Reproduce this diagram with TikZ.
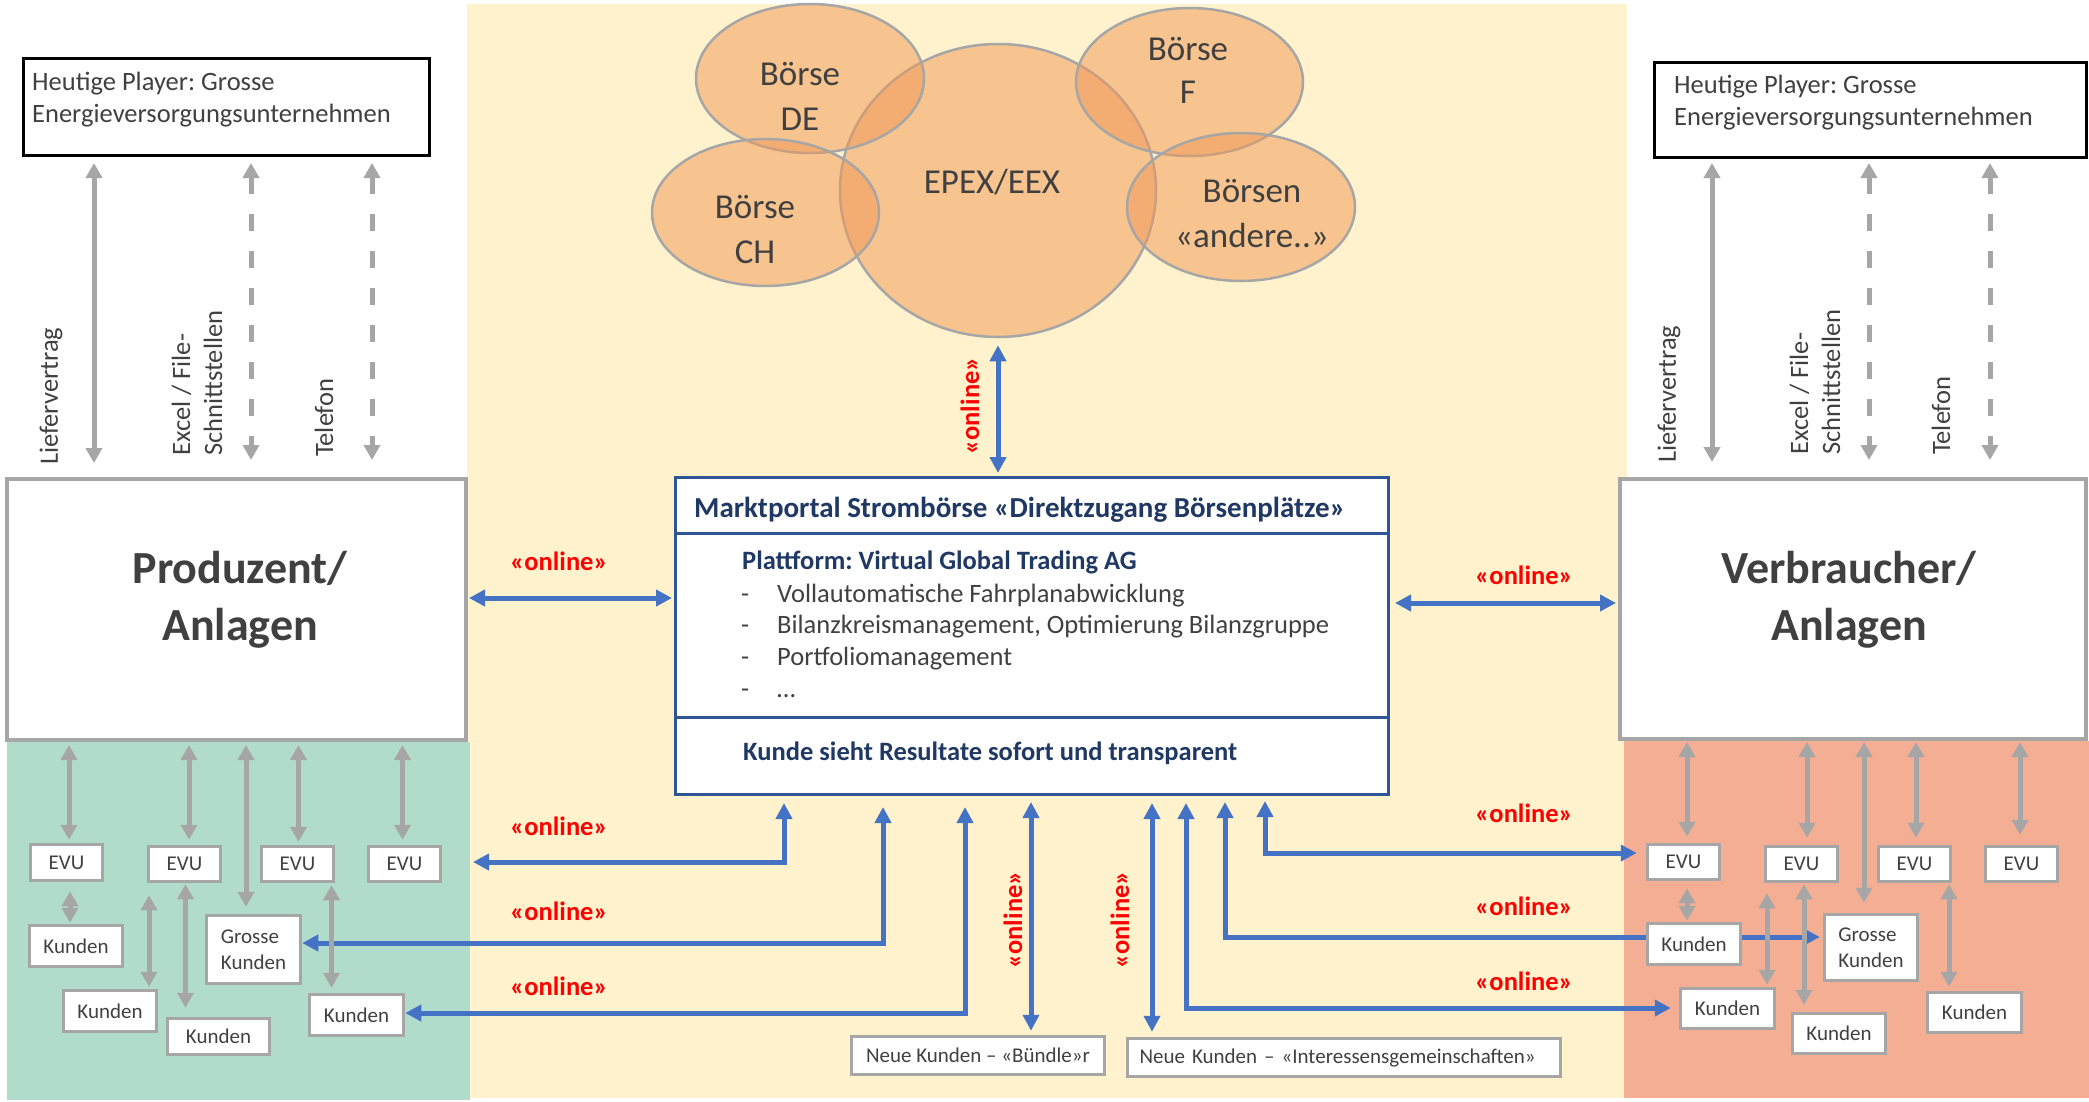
\documentclass[tikz,border=0pt]{standalone}
\usepackage{fontspec}
\setmainfont{Carlito}
\usetikzlibrary{arrows.meta,shapes.geometric}
\pgfdeclarelayer{bgl}
\pgfdeclarelayer{arl}
\pgfsetlayers{bgl,arl,main}
\definecolor{ybg}{HTML}{FFF2CC}
\definecolor{gbg}{HTML}{B1DCCC}
\definecolor{rbg}{HTML}{F4AE94}
\definecolor{orng}{HTML}{F19856}
\definecolor{gline}{HTML}{A6A6A6}
\definecolor{bline}{HTML}{4472C4}
\definecolor{navy}{HTML}{1F3864}
\definecolor{pnavy}{HTML}{2F5597}
\definecolor{tgray}{HTML}{404040}
\definecolor{ored}{HTML}{FF0000}
\frenchspacing
\tikzset{
  garr/.style={draw=gline, line width=5pt, >={Triangle[width=16pt,length=15pt]}, <->},
  gdash/.style={garr, dash pattern=on 17pt off 20pt},
  barr/.style={draw=bline, line width=5pt, >={Triangle[width=16pt,length=16pt]}, <->},
  txt/.style={inner sep=0pt, text=tgray, font=\fontsize{26.5}{32}\selectfont},
  ntxt/.style={inner sep=0pt, text=navy, font=\bfseries\fontsize{26.5}{32}\selectfont},
  onl/.style={inner sep=0pt, text=ored, font=\bfseries\fontsize{26.5}{32}\selectfont},
  bub/.style={ellipse, draw=gline, line width=2.5pt, fill=orng, fill opacity=0.5, inner sep=0pt},
  btxt/.style={inner sep=0pt, text=tgray, font=\fontsize{35}{45}\selectfont},
  hbox/.style={draw=black, line width=3pt, fill=white, inner sep=0pt},
  bbox/.style={draw=gline, line width=4pt, fill=white, inner sep=0pt},
  pbox/.style={draw=pnavy, line width=3pt, fill=white, inner sep=0pt, minimum width=713pt},
  sbox/.style={draw=gline, line width=3.5pt, fill=white, inner sep=0pt, text=tgray, font=\fontsize{21}{26}\selectfont, align=left},
  big/.style={inner sep=0pt, text=tgray, font=\bfseries\fontsize{46}{57}\selectfont},
}
\begin{document}
\frenchspacing
\begin{tikzpicture}[x=1pt,y=-1pt]
\useasboundingbox (0,0) rectangle (2089,1101);
\begin{pgfonlayer}{bgl}
\fill[white] (0,0) rectangle (2089,1101);
\fill[ybg] (467,4) rectangle (1627,1098);
\fill[gbg] (7,742) rectangle (470,1100);
\fill[rbg] (1624,741) rectangle (2089,1098);
\end{pgfonlayer}

% exchange bubbles
\node[bub, minimum width=316pt, minimum height=293pt] (eEPEX) at (998,190.5) {};
\node[bub, minimum width=228pt, minimum height=149pt] (eDE) at (810,78.5) {};
\node[bub, minimum width=227pt, minimum height=147pt] (eCH) at (765.5,212.5) {};
\node[bub, minimum width=227pt, minimum height=148pt] (eF) at (1189.5,82) {};
\node[bub, minimum width=228pt, minimum height=148pt] (eAnd) at (1241,207) {};
\node[btxt, anchor=base] (tDE) at (800,85) {\begin{tabular}[t]{@{}c@{}}Börse\\DE\end{tabular}};
\node[btxt, font=\fontsize{35}{43}\selectfont, anchor=base] (tF) at (1188,60) {\begin{tabular}[t]{@{}c@{}}Börse\\F\end{tabular}};
\node[btxt, anchor=base] (tCH) at (755,218) {\begin{tabular}[t]{@{}c@{}}Börse\\CH\end{tabular}};
\node[btxt, anchor=base] (tAnd) at (1252,202) {\begin{tabular}[t]{@{}c@{}}Börsen\\«andere..»\end{tabular}};
\node[btxt, anchor=base] (tEP) at (992,193) {EPEX/EEX};

% top boxes
\node[hbox, minimum width=406pt, minimum height=97pt] (hL) at (226.5,107) {};
\node[hbox, minimum width=432pt, minimum height=95pt] (hR) at (1870.5,110) {};
\node[txt, anchor=base west] (hLt) at (32,90) {\begin{tabular}[t]{@{}l@{}}Heutige Player: Grosse\\Energieversorgungsunternehmen\end{tabular}};
\node[txt, anchor=base west] (hRt) at (1674,93) {\begin{tabular}[t]{@{}l@{}}Heutige Player: Grosse\\Energieversorgungsunternehmen\end{tabular}};

% big boxes
\node[bbox, minimum width=459pt, minimum height=261pt] (pL) at (236.5,609.5) {};
\node[bbox, minimum width=466pt, minimum height=260pt] (vR) at (1853,609) {};
\node[big, anchor=base] (pLt) at (240,583) {\begin{tabular}[t]{@{}c@{}}Produzent/\\Anlagen\end{tabular}};
\node[big, anchor=base] (vRt) at (1849,583) {\begin{tabular}[t]{@{}c@{}}Verbraucher/\\Anlagen\end{tabular}};

% portal
\node[pbox, minimum height=55.5pt] (pt1) at (1032,505.25) {};
\node[pbox, minimum height=184pt] (pt2) at (1032,625) {};
\node[pbox, minimum height=77.5pt] (pt3) at (1032,755.75) {};
\node[ntxt, font=\bfseries\fontsize{29}{35}\selectfont, anchor=base west] (ttl) at (694,517) {Marktportal Strombörse «Direktzugang Börsenplätze»};
\node[ntxt, anchor=base west] (plat) at (742,569) {Plattform: Virtual Global Trading AG};
\node[txt, anchor=base west, font=\fontsize{26.5}{31.7}\selectfont] (lst) at (741,602) {\begin{tabular}[t]{@{}l@{}}\makebox[36pt][l]{-}Vollautomatische Fahrplanabwicklung\\\makebox[36pt][l]{-}Bilanzkreismanagement, Optimierung Bilanzgruppe\\\makebox[36pt][l]{-}Portfoliomanagement\\\makebox[36pt][l]{-}…\end{tabular}};
\node[ntxt, anchor=base west] (kst) at (743,760) {Kunde sieht Resultate sofort und transparent};

% small boxes left
\node[sbox, minimum width=72pt, minimum height=36pt] (evL1) at (66.5,862.5) {EVU};
\node[sbox, minimum width=72pt, minimum height=35pt] (evL2) at (184.5,864) {EVU};
\node[sbox, minimum width=72pt, minimum height=35pt] (evL3) at (297.5,864) {EVU};
\node[sbox, minimum width=72pt, minimum height=35pt] (evL4) at (404.5,864) {EVU};
\node[sbox, minimum width=93pt, minimum height=41pt] (kL1) at (76,946) {Kunden};
\node[sbox, minimum width=93pt, minimum height=41pt] (kL2) at (110,1011) {Kunden};
\node[sbox, minimum width=102pt, minimum height=36pt] (kL3) at (218.5,1036.5) {Kunden};
\node[sbox, minimum width=94pt, minimum height=68pt] (gkL) at (253.5,949.5) {Grosse\\Kunden};
\node[sbox, minimum width=94pt, minimum height=41pt] (kL4) at (356.5,1015) {Kunden};
% small boxes right
\node[sbox, minimum width=72pt, minimum height=35pt] (evR1) at (1683.5,862) {EVU};
\node[sbox, minimum width=72pt, minimum height=35pt] (evR2) at (1801.5,864) {EVU};
\node[sbox, minimum width=72pt, minimum height=35pt] (evR3) at (1914.5,864) {EVU};
\node[sbox, minimum width=72pt, minimum height=35pt] (evR4) at (2021.5,864) {EVU};
\node[sbox, minimum width=93pt, minimum height=41pt] (kR1) at (1694,944) {Kunden};
\node[sbox, minimum width=94pt, minimum height=40pt] (kR2) at (1727.5,1008.5) {Kunden};
\node[sbox, minimum width=93pt, minimum height=40pt] (kR3) at (1839,1033.5) {Kunden};
\node[sbox, minimum width=93pt, minimum height=66pt] (gkR) at (1871,947.5) {Grosse\\Kunden};
\node[sbox, minimum width=94pt, minimum height=40pt] (kR4) at (1974.5,1012.5) {Kunden};
% new customers
\node[sbox, minimum width=253pt, minimum height=38pt] (nkB) at (978,1055.5) {Neue Kunden – «Bündle»r};
\node[sbox, minimum width=433pt, minimum height=38pt, text width=409pt] (nkI) at (1344,1057.5) {Neue Kunden – «Interessensgemeinschaften»};

% labels
\node[txt, rotate=90, anchor=west] (lL1) at (51,465) {Liefervertrag};
\node[txt, rotate=90, anchor=west, align=left] (lL2) at (197,456) {Excel / File-\\Schnittstellen};
\node[txt, rotate=90, anchor=west] (lL3) at (324,457) {Telefon};
\node[txt, rotate=90, anchor=west] (lR1) at (1669,463) {Liefervertrag};
\node[txt, rotate=90, anchor=west, align=left] (lR2) at (1815,455) {Excel / File-\\Schnittstellen};
\node[txt, rotate=90, anchor=west] (lR3) at (1941,455) {Telefon};

\node[onl, rotate=90] (o0) at (970,406) {«online»};
\node[onl, rotate=90] (oB) at (1013,920) {«online»};
\node[onl, rotate=90] (oI) at (1120,920) {«online»};
\node[onl, anchor=base west] (oL1) at (510,570) {«online»};
\node[onl, anchor=base west] (oL2) at (510,835) {«online»};
\node[onl, anchor=base west] (oL3) at (510,920) {«online»};
\node[onl, anchor=base west] (oL4) at (510,995) {«online»};
\node[onl, anchor=base west] (oR1) at (1475,584) {«online»};
\node[onl, anchor=base west] (oR2) at (1475,822) {«online»};
\node[onl, anchor=base west] (oR3) at (1475,915) {«online»};
\node[onl, anchor=base west] (oR4) at (1475,990) {«online»};

\coordinate (gl1) at (473,862);

\begin{pgfonlayer}{arl}
% blue connectors
\draw[barr, shorten <=7pt, shorten >=3pt] (eEPEX.south) -- (pt1.north -| eEPEX.south);
\draw[barr, shorten <=1pt, shorten >=2pt] (pL.east |- 0,598) -- (pt2.west |- 0,598);
\draw[barr, shorten <=5pt, shorten >=2pt] (pt2.east |- 0,603) -- (vR.west |- 0,603);
\draw[barr, shorten <=7pt] (pt3.south -| 784,0) |- (gl1);
\draw[barr, shorten <=11pt] (pt3.south -| 883,0) |- (gkL.east |- 0,943);
\draw[barr, shorten <=11pt] (pt3.south -| 965,0) |- (kL4.east |- 0,1013);
\draw[barr, shorten <=6pt, shorten >=4pt] (pt3.south -| 1031,0) -- (nkB.north -| 1031,0);
\draw[barr, shorten <=7pt, shorten >=5pt] (pt3.south -| 1152,0) -- (nkI.north -| 1152,0);
\draw[barr, shorten <=5pt, shorten >=9pt] (pt3.south -| 1265,0) |- (evR1.west |- 0,853);
\draw[barr, shorten <=6pt, shorten >=3pt] (pt3.south -| 1225,0) |- (gkR.west |- 0,937);
\draw[barr, shorten <=7pt, shorten >=8pt] (pt3.south -| 1186,0) |- (kR2.west |- 0,1008);

% gray connectors top
\draw[garr, shorten <=6pt, shorten >=14pt] (hL.south -| 94,0) -- (pL.north -| 94,0);
\draw[gdash, shorten <=6pt, shorten >=17pt] (hL.south -| 251,0) -- (pL.north -| 251,0);
\draw[gdash, shorten <=6pt, shorten >=17pt] (hL.south -| 372,0) -- (pL.north -| 372,0);
\draw[garr, shorten <=4pt, shorten >=15pt] (hR.south -| 1712,0) -- (vR.north -| 1712,0);
\draw[gdash, shorten <=4pt, shorten >=17pt] (hR.south -| 1869,0) -- (vR.north -| 1869,0);
\draw[gdash, shorten <=4pt, shorten >=17pt] (hR.south -| 1990,0) -- (vR.north -| 1990,0);

% gray connectors left bottom
\draw[garr, shorten <=3pt, shorten >=3pt] (pL.south -| 69,0) -- (evL1.north -| 69,0);
\draw[garr, shorten <=3pt, shorten >=5pt] (pL.south -| 189,0) -- (evL2.north -| 189,0);
\draw[garr, shorten <=3pt, shorten >=7pt] (pL.south -| 246,0) -- (gkL.north -| 246,0);
\draw[garr, shorten <=3pt, shorten >=3pt] (pL.south -| 298.5,0) -- (evL3.north -| 298.5,0);
\draw[garr, shorten <=3pt, shorten >=5pt] (pL.south -| 402.5,0) -- (evL4.north -| 402.5,0);
\draw[garr, shorten <=9pt, shorten >=1pt] (evL1.south -| 70,0) -- (kL1.north -| 70,0);
\draw[garr, shorten <=12pt, shorten >=2pt] (evL2.south -| 149,0) -- (kL2.north -| 149,0);
\draw[garr, shorten <=1pt, shorten >=9pt] (evL2.south -| 185.5,0) -- (kL3.north -| 185.5,0);
\draw[garr, shorten <=2pt, shorten >=5pt] (evL3.south -| 331.5,0) -- (kL4.north -| 331.5,0);

% gray connectors right bottom
\draw[garr, shorten <=1pt, shorten >=6pt] (vR.south -| 1687,0) -- (evR1.north -| 1687,0);
\draw[garr, shorten <=1pt, shorten >=7pt] (vR.south -| 1807,0) -- (evR2.north -| 1807,0);
\draw[garr, shorten <=1pt, shorten >=10pt] (vR.south -| 1864,0) -- (gkR.north -| 1864,0);
\draw[garr, shorten <=1pt, shorten >=7pt] (vR.south -| 1916,0) -- (evR3.north -| 1916,0);
\draw[garr, shorten <=1pt, shorten >=10pt] (vR.south -| 2020,0) -- (evR4.north -| 2020,0);
\draw[garr, shorten <=7pt, shorten >=1pt] (evR1.south -| 1687,0) -- (kR1.north -| 1687,0);
\draw[garr, shorten <=10pt, shorten >=2pt] (evR2.south -| 1767,0) -- (kR2.north -| 1767,0);
\draw[garr, shorten <=1pt, shorten >=7pt] (evR2.south -| 1804,0) -- (kR3.north -| 1804,0);
\draw[garr, shorten <=1pt, shorten >=4pt] (evR3.south -| 1949,0) -- (kR4.north -| 1949,0);
\end{pgfonlayer}
\end{tikzpicture}
\end{document}
